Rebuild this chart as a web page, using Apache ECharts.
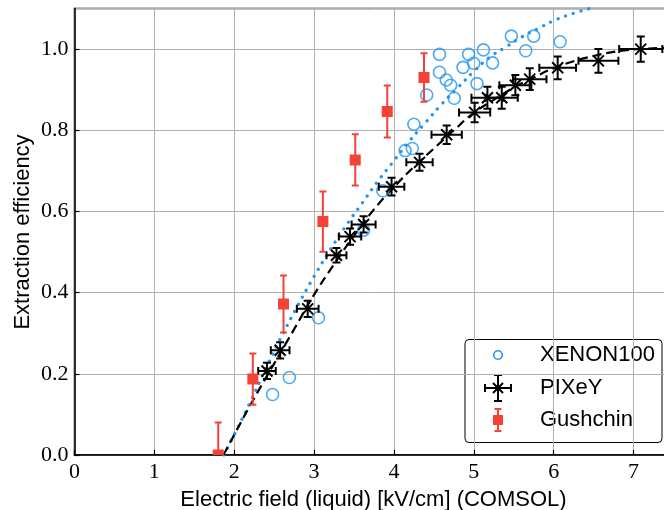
<!DOCTYPE html>
<html>
<head>
<meta charset="utf-8">
<script src="https://cdn.jsdelivr.net/npm/echarts@6/dist/echarts.min.js"></script>
<style>
html,body{margin:0;padding:0;background:#fff;}
#chart{width:664px;height:510px;}
</style>
</head>
<body>
<div id="chart"></div>
<script>
// ---- Data ----
var xenonX = [2.48, 2.69, 3.055, 3.62, 3.86, 4.14, 4.23, 4.25, 4.41, 4.57, 4.57, 4.655, 4.71, 4.755, 4.865, 4.935, 5.0, 5.04, 5.12, 5.235, 5.47, 5.65, 5.75, 6.08];
var xenonY = [0.149, 0.191, 0.338, 0.554, 0.651, 0.750, 0.755, 0.815, 0.887, 0.987, 0.943, 0.924, 0.911, 0.879, 0.955, 0.987, 0.965, 0.915, 0.998, 0.966, 1.032, 0.996, 1.032, 1.018];

var pixeyX    = [2.41, 2.575, 2.92, 3.28, 3.45, 3.62, 3.97, 4.32, 4.66, 5.01, 5.17, 5.35, 5.52, 5.70, 6.05, 6.56, 7.09];
var pixeyY    = [0.207, 0.258, 0.360, 0.492, 0.538, 0.568, 0.661, 0.721, 0.789, 0.844, 0.880, 0.880, 0.911, 0.926, 0.954, 0.971, 1.000];
var pixeyXErr = [0.11, 0.117, 0.136, 0.125, 0.14, 0.15, 0.16, 0.165, 0.19, 0.195, 0.2, 0.2, 0.2, 0.21, 0.23, 0.25, 0.27];
var pixeyYErr = [0.02, 0.02, 0.02, 0.018, 0.02, 0.02, 0.022, 0.021, 0.023, 0.024, 0.027, 0.027, 0.025, 0.027, 0.028, 0.029, 0.031];

var gushX   = [1.80, 2.233, 2.617, 3.11, 3.515, 3.916, 4.376];
var gushY   = [0.0, 0.187, 0.372, 0.575, 0.727, 0.846, 0.930];
var gushErr = [0.08, 0.063, 0.07, 0.074, 0.063, 0.064, 0.06];

var fitPixeyX = [1.865, 2.0, 2.25, 2.5, 2.75, 3.0, 3.25, 3.5, 3.75, 4.0, 4.25, 4.5, 4.75, 5.0, 5.25, 5.5, 5.75, 6.0, 6.25, 6.5, 6.75, 7.0, 7.4];
var fitPixeyY = [0.0, 0.05, 0.14, 0.225, 0.31, 0.395, 0.47, 0.54, 0.605, 0.66, 0.71, 0.755, 0.80, 0.843, 0.875, 0.905, 0.93, 0.953, 0.97, 0.983, 0.993, 0.999, 1.003];

var fitXenonX = [1.87, 2.0, 2.2, 2.4, 2.6, 2.8, 3.0, 3.2, 3.4, 3.6, 3.8, 4.0, 4.2, 4.4, 4.6, 4.8, 5.0, 5.2, 5.4, 5.6, 5.8, 6.0, 6.2, 6.45];
var fitXenonY = [0.0, 0.05, 0.13, 0.215, 0.295, 0.37, 0.44, 0.505, 0.565, 0.62, 0.675, 0.725, 0.775, 0.82, 0.865, 0.905, 0.945, 0.98, 1.005, 1.03, 1.05, 1.07, 1.085, 1.1];

var xTicks = [0, 1, 2, 3, 4, 5, 6, 7];
var yTicks = [0.0, 0.2, 0.4, 0.6, 0.8, 1.0];

// ---- Build ----
var BLUE = '#2196f3', RED = '#f44336', BLACK = '#000000';
function zip(a, b, c, d) {
  return a.map(function (v, i) {
    var r = [v, b[i]];
    if (c) r.push(c[i]);
    if (d) r.push(d[i]);
    return r;
  });
}

var chart = echarts.init(document.getElementById('chart'), null, {renderer: 'canvas'});
var tickFont = {fontFamily: 'Liberation Serif', fontSize: 22, color: '#000'};

var option = {
  animation: false,
  backgroundColor: '#fff',
  grid: {left: 74.5, top: 8.5, width: 591, height: 446.5, show: true, borderColor: '#000', borderWidth: 1.5,
    backgroundColor: 'transparent', containLabel: false, outerBoundsMode: 'none'},
  xAxis: {
    type: 'value', min: 0, max: 7.4, interval: 1,
    axisLine: {show: true, lineStyle: {color: '#000', width: 1.5}},
    axisTick: {show: true, inside: true, length: 5, lineStyle: {color: '#000', width: 1.2}},
    splitLine: {show: true, lineStyle: {color: '#b0b0b0', width: 1}},
    axisLabel: Object.assign({margin: 6, showMaxLabel: false, formatter: function (v) { return xTicks.indexOf(v) >= 0 ? String(v) : ''; }}, tickFont),
    name: 'Electric field (liquid) [kV/cm] (COMSOL)',
    nameLocation: 'middle', nameGap: 34,
    nameTextStyle: {fontFamily: 'Liberation Sans', fontSize: 22, color: '#000', padding: [0, 0, 0, 7]}
  },
  yAxis: {
    type: 'value', min: 0, max: 1.1, interval: 0.2,
    axisLine: {show: true, lineStyle: {color: '#000', width: 1.5}},
    axisTick: {show: true, inside: true, length: 5, lineStyle: {color: '#000', width: 1.2}},
    splitLine: {show: true, lineStyle: {color: '#b0b0b0', width: 1}},
    axisLabel: Object.assign({margin: 6, showMaxLabel: false, formatter: function (v) {
      for (var i = 0; i < yTicks.length; i++) if (Math.abs(yTicks[i] - v) < 1e-6) return yTicks[i].toFixed(1);
      return '';
    }}, tickFont)
  },
  graphic: [
    {type: 'text', x: 23, y: 232, rotation: Math.PI / 2, z: 50,
      style: {text: 'Extraction efficiency', font: '22px "Liberation Sans"', fill: '#000', align: 'center', verticalAlign: 'middle'}},
    {type: 'group', z: 100, children: [
      {type: 'rect', shape: {x: 465, y: 339.5, width: 197, height: 103, r: 4}, style: {fill: '#fff', stroke: '#000', lineWidth: 1}},
      {type: 'circle', shape: {cx: 498, cy: 355, r: 4.3}, style: {fill: 'none', stroke: BLUE, lineWidth: 1.6}},
      {type: 'line', shape: {x1: 485, y1: 388, x2: 511, y2: 388}, style: {stroke: BLACK, lineWidth: 2}},
      {type: 'line', shape: {x1: 498, y1: 375, x2: 498, y2: 401}, style: {stroke: BLACK, lineWidth: 2}},
      {type: 'line', shape: {x1: 485, y1: 384, x2: 485, y2: 392}, style: {stroke: BLACK, lineWidth: 2}},
      {type: 'line', shape: {x1: 511, y1: 384, x2: 511, y2: 392}, style: {stroke: BLACK, lineWidth: 2}},
      {type: 'line', shape: {x1: 494, y1: 375, x2: 502, y2: 375}, style: {stroke: BLACK, lineWidth: 2}},
      {type: 'line', shape: {x1: 494, y1: 401, x2: 502, y2: 401}, style: {stroke: BLACK, lineWidth: 2}},
      {type: 'line', shape: {x1: 493, y1: 383, x2: 503, y2: 393}, style: {stroke: BLACK, lineWidth: 2}},
      {type: 'line', shape: {x1: 493, y1: 393, x2: 503, y2: 383}, style: {stroke: BLACK, lineWidth: 2}},
      {type: 'line', shape: {x1: 498, y1: 409, x2: 498, y2: 431}, style: {stroke: RED, lineWidth: 2}},
      {type: 'line', shape: {x1: 494.5, y1: 409, x2: 501.5, y2: 409}, style: {stroke: RED, lineWidth: 2}},
      {type: 'line', shape: {x1: 494.5, y1: 431, x2: 501.5, y2: 431}, style: {stroke: RED, lineWidth: 2}},
      {type: 'rect', shape: {x: 493, y: 415, width: 10, height: 10}, style: {fill: RED}},
      {type: 'text', x: 540, y: 355, style: {text: 'XENON100', font: '22px "Liberation Sans"', fill: '#000', verticalAlign: 'middle'}},
      {type: 'text', x: 540, y: 388, style: {text: 'PIXeY', font: '22px "Liberation Sans"', fill: '#000', verticalAlign: 'middle'}},
      {type: 'text', x: 540, y: 420, style: {text: 'Gushchin', font: '22px "Liberation Sans"', fill: '#000', verticalAlign: 'middle'}}
    ]}
  ],
  series: [
    {
      name: 'XENON100 fit', type: 'line', data: zip(fitXenonX, fitXenonY), smooth: true, showSymbol: false, symbol: 'none', z: 2,
      clip: true,
      lineStyle: {color: BLUE, width: 3.3, type: [0.01, 8], cap: 'round'}
    },
    {
      name: 'PIXeY fit', type: 'line', data: zip(fitPixeyX, fitPixeyY), smooth: true, showSymbol: false, symbol: 'none', z: 3,
      clip: true,
      lineStyle: {color: BLACK, width: 2.2, type: [9, 5]}
    },
    {
      name: 'XENON100', type: 'scatter', data: zip(xenonX, xenonY), symbol: 'circle', symbolSize: 12, z: 4,
      itemStyle: {color: 'rgba(255,255,255,0)', borderColor: BLUE, borderWidth: 1.6}
    },
    {
      name: 'PIXeY', type: 'custom', data: zip(pixeyX, pixeyY, pixeyXErr, pixeyYErr), z: 5, clip: true,
      renderItem: function (params, api) {
        var x = api.value(0), y = api.value(1), xe = api.value(2), ye = api.value(3);
        var c = api.coord([x, y]);
        var l = api.coord([x - xe, y]), r = api.coord([x + xe, y]);
        var t = api.coord([x, y + ye]), b = api.coord([x, y - ye]);
        var cap = 4, m = 5.5;
        var st = {stroke: BLACK, lineWidth: 2};
        function ln(x1, y1, x2, y2) { return {type: 'line', shape: {x1: x1, y1: y1, x2: x2, y2: y2}, style: st}; }
        return {type: 'group', children: [
          ln(l[0], l[1], r[0], r[1]),
          ln(t[0], t[1], b[0], b[1]),
          ln(l[0], l[1] - cap, l[0], l[1] + cap),
          ln(r[0], r[1] - cap, r[0], r[1] + cap),
          ln(t[0] - cap, t[1], t[0] + cap, t[1]),
          ln(b[0] - cap, b[1], b[0] + cap, b[1]),
          ln(c[0] - m, c[1] - m, c[0] + m, c[1] + m),
          ln(c[0] - m, c[1] + m, c[0] + m, c[1] - m)
        ]};
      }
    },
    {
      name: 'Gushchin', type: 'custom', data: zip(gushX, gushY, gushErr), z: 6, clip: true,
      renderItem: function (params, api) {
        var x = api.value(0), y = api.value(1), e = api.value(2);
        var c = api.coord([x, y]);
        var t = api.coord([x, y + e]), b = api.coord([x, y - e]);
        var cap = 3.5, h = 5.5;
        var st = {stroke: RED, lineWidth: 2};
        function ln(x1, y1, x2, y2) { return {type: 'line', shape: {x1: x1, y1: y1, x2: x2, y2: y2}, style: st}; }
        return {type: 'group', children: [
          ln(t[0], t[1], b[0], b[1]),
          ln(t[0] - cap, t[1], t[0] + cap, t[1]),
          ln(b[0] - cap, b[1], b[0] + cap, b[1]),
          {type: 'rect', shape: {x: c[0] - h, y: c[1] - h, width: 2 * h, height: 2 * h}, style: {fill: RED}}
        ]};
      }
    }
  ]
};
chart.setOption(option);
</script>
</body>
</html>
